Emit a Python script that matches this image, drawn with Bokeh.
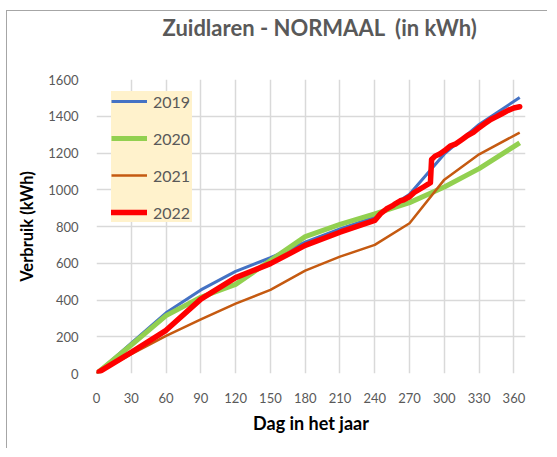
from bokeh.plotting import figure
from bokeh.models import Range1d, FixedTicker, Legend, LegendItem, Title
from bokeh.embed import file_html
from bokeh.resources import INLINE

# ---- data ----
days_month = [0, 30, 60, 90, 120, 150, 180, 210, 240, 270, 300, 330, 365]
y2019 = [0, 165, 330, 455, 556, 630, 715, 787, 851, 975, 1195, 1355, 1502]
y2020 = [0, 155, 315, 415, 485, 615, 745, 811, 869, 930, 1015, 1115, 1255]
y2021 = [0, 105, 205, 295, 380, 455, 560, 636, 700, 818, 1055, 1193, 1311]

days_2022 = [0, 30, 60, 90, 120, 150, 180, 210, 240, 245, 250, 255, 258, 262,
             265, 270, 274, 278, 282, 286, 288, 289, 292, 296, 300, 305, 310,
             315, 320, 325, 330, 335, 340, 345, 350, 355, 360, 365]
y2022 = [0, 115, 235, 405, 522, 598, 697, 769, 833, 870, 895, 912, 925, 940,
         945, 962, 985, 1000, 1015, 1030, 1038, 1165, 1183, 1195, 1212, 1238, 1250,
         1272, 1295, 1312, 1338, 1360, 1382, 1398, 1415, 1432, 1445, 1452]

x_ticks = [0, 30, 60, 90, 120, 150, 180, 210, 240, 270, 300, 330, 360]
y_ticks = [0, 200, 400, 600, 800, 1000, 1200, 1400, 1600]

FONT = "Lato"
GREY = "#595959"

p = figure(width=541, height=438, output_backend="svg", toolbar_location=None,
           x_range=Range1d(0, 370), y_range=Range1d(0, 1600),
           min_border_left=89, min_border_right=23, min_border_top=68, min_border_bottom=76,
           styles={"border-top": "1px solid #a6a6a6", "border-left": "1px solid #a6a6a6",
                   "margin-top": "10px", "margin-left": "6px"})
p.outline_line_color = None
p.background_fill_color = "white"
p.border_fill_color = "white"

# main title (outermost) + an invisible spacer between it and the frame
p.title.text = "Zuidlaren - NORMAAL\u00a0 (in kWh)"
p.title.align = "left"
p.title.offset = 66
p.title.standoff = 0
p.title.text_font = FONT
p.title.text_font_size = "22px"
p.title.text_font_style = "bold"
p.title.text_color = GREY
spacer = Title(text=" ", text_font_size="1px", standoff=36)
p.add_layout(spacer, "above")

for ax in (p.xaxis[0], p.yaxis[0]):
    ax.axis_line_color = None
    ax.major_tick_line_color = None
    ax.minor_tick_line_color = None
    ax.major_label_text_font = FONT
    ax.major_label_text_font_size = "13px"
    ax.major_label_text_color = GREY
    ax.axis_label_text_font = FONT
    ax.axis_label_text_font_style = "bold"
    ax.axis_label_text_color = "black"

p.xaxis.ticker = FixedTicker(ticks=x_ticks)
p.yaxis.ticker = FixedTicker(ticks=y_ticks)
p.xaxis.axis_label = "Dag in het jaar"
p.yaxis.axis_label = "Verbruik (kWh)"
p.xaxis.axis_label_text_font_size = "18px"
p.yaxis.axis_label_text_font_size = "16.5px"
p.xaxis.major_label_standoff = 13
p.yaxis.major_label_standoff = 12
p.xaxis.axis_label_standoff = 6
p.yaxis.axis_label_standoff = 8

p.xgrid.ticker = FixedTicker(ticks=x_ticks)
p.ygrid.ticker = FixedTicker(ticks=y_ticks)
for g in (p.xgrid[0], p.ygrid[0]):
    g.grid_line_color = "#d9d9d9"
    g.grid_line_width = 1.5

r19 = p.line(days_month, y2019, line_color="#4472C4", line_width=3, line_join="round")
r20 = p.line(days_month, y2020, line_color="#92D050", line_width=5, line_join="round")
r21 = p.line(days_month, y2021, line_color="#C55A11", line_width=2.5, line_join="round")
r22 = p.line(days_2022, y2022, line_color="#FF0000", line_width=5.5, line_join="round",
             line_cap="round")

legend = Legend(items=[LegendItem(label="2019", renderers=[r19]),
                       LegendItem(label="2020", renderers=[r20]),
                       LegendItem(label="2021", renderers=[r21]),
                       LegendItem(label="2022", renderers=[r22])],
                orientation="vertical")
legend.margin = 0
legend.padding = 8
legend.spacing = 17
legend.glyph_width = 36
legend.glyph_height = 20
legend.label_height = 20
legend.label_width = 39
legend.label_standoff = 6
legend.label_text_font = FONT
legend.label_text_font_size = "16px"
legend.label_text_color = GREY
legend.background_fill_color = "#FFF2CC"
legend.background_fill_alpha = 1
legend.border_line_color = None
legend.location = (15, 151)
p.add_layout(legend, "center")

open("out.html", "w").write(file_html(p, INLINE))
